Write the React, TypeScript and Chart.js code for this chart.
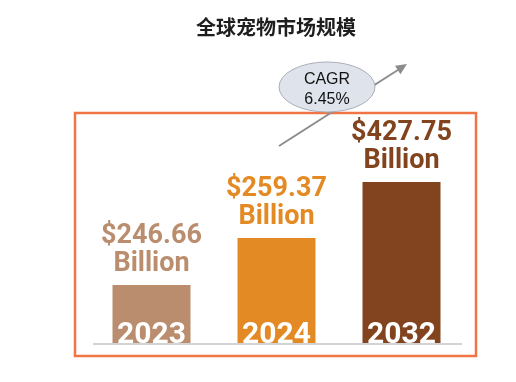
import React, { useEffect, useRef } from "react";
import { Chart, registerables } from "chart.js";

Chart.register(...registerables);

const title = "全球宠物市场规模";
const years = ["2023", "2024", "2032"];
const marketValues = ["$246.66", "$259.37", "$427.75"];
const unitLabel = "Billion";
// visual bar heights as drawn in the infographic (not proportional to the values)
const barLevels = [58, 105, 161];
const barColors = ["#B98D6E", "#E38A24", "#82441E"];
const cagrLines = ["CAGR", "6.45%"];

const decorPlugin = {
  id: "decor",
  beforeDatasetsDraw(chart: any) {
    const { ctx, chartArea } = chart;
    ctx.save();
    // orange frame
    ctx.strokeStyle = "#F07444";
    ctx.lineWidth = 2.5;
    ctx.strokeRect(chartArea.left - 14, 113, chartArea.right - chartArea.left + 26, chartArea.bottom - 113 + 13);
    // baseline
    ctx.strokeStyle = "#D3D3D6";
    ctx.lineWidth = 2;
    ctx.beginPath();
    ctx.moveTo(chartArea.left + 4, chartArea.bottom + 1);
    ctx.lineTo(chartArea.right - 2, chartArea.bottom + 1);
    ctx.stroke();
    ctx.restore();
  },
  afterDraw(chart: any) {
    const { ctx, chartArea } = chart;
    const meta = chart.getDatasetMeta(0);
    ctx.save();
    // title
    ctx.fillStyle = "#1E1E1E";
    ctx.font = "bold 20px 'Noto Sans CJK SC'";
    ctx.textAlign = "center";
    ctx.textBaseline = "middle";
    ctx.fillText(title, 276, 27);

    meta.data.forEach((bar: any, i: number) => {
      ctx.textAlign = "center";
      ctx.textBaseline = "alphabetic";
      ctx.fillStyle = barColors[i];
      ctx.font = "bold 27px Roboto";
      ctx.fillText(marketValues[i], bar.x, bar.y - 42);
      ctx.fillText(unitLabel, bar.x, bar.y - 14);
      ctx.fillStyle = "#FFFFFF";
      ctx.font = "bold 30px Roboto";
      ctx.fillText(years[i], bar.x, chartArea.bottom);
    });

    // arrow
    const x0 = 279, y0 = 146, x1 = 407, y1 = 64;
    ctx.strokeStyle = "#8C8C8C";
    ctx.fillStyle = "#8C8C8C";
    ctx.lineWidth = 2;
    ctx.beginPath();
    ctx.moveTo(x0, y0);
    ctx.lineTo(x1 - 6, y1 + 4);
    ctx.stroke();
    const ang = Math.atan2(y1 - y0, x1 - x0);
    ctx.beginPath();
    ctx.moveTo(x1, y1);
    ctx.lineTo(x1 - 11 * Math.cos(ang) + 5 * Math.sin(ang), y1 - 11 * Math.sin(ang) - 5 * Math.cos(ang));
    ctx.lineTo(x1 - 11 * Math.cos(ang) - 5 * Math.sin(ang), y1 - 11 * Math.sin(ang) + 5 * Math.cos(ang));
    ctx.closePath();
    ctx.fill();

    // ellipse
    ctx.beginPath();
    ctx.ellipse(327, 87, 48, 25, 0, 0, Math.PI * 2);
    ctx.fillStyle = "#DFE3EB";
    ctx.fill();
    ctx.strokeStyle = "#A9ADB5";
    ctx.lineWidth = 1;
    ctx.stroke();
    ctx.fillStyle = "#111";
    ctx.font = "16px 'Liberation Sans'";
    ctx.textAlign = "center";
    ctx.fillText(cagrLines[0], 327, 84);
    ctx.fillText(cagrLines[1], 327, 104);
    ctx.restore();
  },
};

export default function App() {
  const ref = useRef<HTMLCanvasElement>(null);
  useEffect(() => {
    if (!ref.current) return;
    const chart = new Chart(ref.current, {
      type: "bar",
      data: {
        labels: years,
        datasets: [
          {
            data: barLevels,
            backgroundColor: barColors,
            borderWidth: 0,
            barPercentage: 0.624,
            categoryPercentage: 1,
          },
        ],
      },
      options: {
        responsive: false,
        animation: false,
        layout: { padding: { left: 89, right: 52, top: 143, bottom: 39 } },
        plugins: { legend: { display: false }, tooltip: { enabled: false }, title: { display: false } },
        scales: {
          x: { display: false },
          y: { display: false, min: 0, max: 200 },
        },
      },
      plugins: [decorPlugin],
    });
    return () => chart.destroy();
  }, []);
  return (
    <div style={{ position: "fixed", left: 0, top: 0, width: 516, height: 382, background: "#fff" }}>
      <canvas ref={ref} width={516} height={382} style={{ width: 516, height: 382 }} />
    </div>
  );
}
